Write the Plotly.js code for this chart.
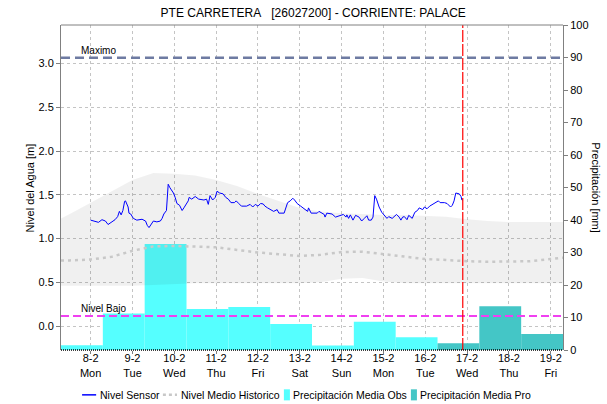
<!DOCTYPE html>
<html>
<head>
<meta charset="utf-8">
<script src="https://cdn.plot.ly/plotly-3.0.1.min.js"></script>
<style>
  html, body { margin: 0; padding: 0; background: #ffffff; }
  #chart { width: 607px; height: 404px; }
</style>
</head>
<body>
<div id="chart"></div>
<script>
// Station and window
const stationTitle = 'PTE CARRETERA\u00A0\u00A0\u00A0[26027200] - CORRIENTE: PALACE';
const windowStart = '2021-02-07 07:00';
const windowEnd = '2021-02-19 07:00';
const nowTime = '2021-02-16 21:30';

// Reference levels [m]
const levelMaximo = 3.066;
const levelBajo = 0.114;

// Day ticks
const tickDays = ['2021-02-08', '2021-02-09', '2021-02-10', '2021-02-11', '2021-02-12', '2021-02-13',
                  '2021-02-14', '2021-02-15', '2021-02-16', '2021-02-17', '2021-02-18', '2021-02-19'];
const tickDates = ['8-2', '9-2', '10-2', '11-2', '12-2', '13-2', '14-2', '15-2', '16-2', '17-2', '18-2', '19-2'];
const tickWeekdays = ['Mon', 'Tue', 'Wed', 'Thu', 'Fri', 'Sat', 'Sun', 'Mon', 'Tue', 'Wed', 'Thu', 'Fri'];

// Observed daily precipitation (day starts 07:00) [mm]
const obsDays = ['2021-02-07 07:00', '2021-02-08 07:00', '2021-02-09 07:00', '2021-02-10 07:00', '2021-02-11 07:00',
                 '2021-02-12 07:00', '2021-02-13 07:00', '2021-02-14 07:00', '2021-02-15 07:00'];
const obsPrecip = [1.5, 11.2, 32.6, 12.6, 13.2, 8.0, 1.4, 8.7, 3.9];

// Forecast daily precipitation [mm]
const proDays = ['2021-02-16 07:00', '2021-02-17 07:00', '2021-02-18 07:00'];
const proPrecip = [2.1, 13.5, 4.9];

// Historical statistics for the period [m]
const histTime = ['2021-02-07 07:00', '2021-02-07 12:00', '2021-02-08 00:00', '2021-02-08 12:00', '2021-02-09 00:00',
                  '2021-02-09 12:00', '2021-02-10 00:00', '2021-02-10 12:00', '2021-02-11 00:00', '2021-02-11 12:00',
                  '2021-02-12 00:00', '2021-02-12 12:00', '2021-02-13 00:00', '2021-02-13 12:00', '2021-02-14 00:00',
                  '2021-02-14 12:00', '2021-02-15 00:00', '2021-02-15 12:00', '2021-02-16 00:00', '2021-02-16 12:00',
                  '2021-02-17 00:00', '2021-02-17 12:00', '2021-02-18 00:00', '2021-02-18 12:00', '2021-02-19 00:00',
                  '2021-02-19 07:00'];
const histMax = [1.23, 1.28, 1.41, 1.54, 1.67, 1.75, 1.74, 1.72, 1.67, 1.60, 1.51, 1.43, 1.35,
                 1.31, 1.29, 1.28, 1.27, 1.27, 1.26, 1.25, 1.22, 1.20, 1.19, 1.19, 1.19, 1.19];
const histMin = [0.46, 0.46, 0.46, 0.46, 0.46, 0.47, 0.48, 0.49, 0.49, 0.49, 0.49, 0.49, 0.49,
                 0.50, 0.54, 0.55, 0.51, 0.49, 0.49, 0.49, 0.49, 0.49, 0.49, 0.49, 0.49, 0.49];
const histMean = [0.75, 0.75, 0.76, 0.79, 0.86, 0.91, 0.915, 0.91, 0.90, 0.87, 0.84, 0.82, 0.80,
                  0.815, 0.845, 0.85, 0.82, 0.79, 0.765, 0.755, 0.74, 0.735, 0.735, 0.74, 0.765, 0.78];

// Sensor readings [m]
const sensorTime = [
  '2021-02-08 00:00', '2021-02-08 02:30', '2021-02-08 04:30', '2021-02-08 06:30', '2021-02-08 08:30', '2021-02-08 10:00',
  '2021-02-08 12:00', '2021-02-08 14:00', '2021-02-08 15:30', '2021-02-08 16:30', '2021-02-08 17:30', '2021-02-08 18:30',
  '2021-02-08 19:30', '2021-02-08 20:00', '2021-02-08 21:30', '2021-02-08 22:00', '2021-02-08 23:00', '2021-02-09 00:30',
  '2021-02-09 02:30', '2021-02-09 05:30', '2021-02-09 07:30', '2021-02-09 08:30', '2021-02-09 09:30', '2021-02-09 10:30',
  '2021-02-09 12:00', '2021-02-09 14:00', '2021-02-09 16:00', '2021-02-09 17:00', '2021-02-09 18:00', '2021-02-09 19:30',
  '2021-02-09 20:00', '2021-02-09 20:30', '2021-02-09 21:30', '2021-02-09 22:30', '2021-02-09 23:30', '2021-02-10 00:30',
  '2021-02-10 01:30', '2021-02-10 03:00', '2021-02-10 04:30', '2021-02-10 05:30', '2021-02-10 07:00', '2021-02-10 08:00',
  '2021-02-10 08:30', '2021-02-10 10:00', '2021-02-10 12:00', '2021-02-10 14:00', '2021-02-10 17:00', '2021-02-10 18:30',
  '2021-02-10 19:30', '2021-02-10 20:30', '2021-02-10 22:00', '2021-02-10 23:30', '2021-02-11 00:30', '2021-02-11 02:00',
  '2021-02-11 04:00', '2021-02-11 05:30', '2021-02-11 07:00', '2021-02-11 08:30', '2021-02-11 10:30', '2021-02-11 11:30',
  '2021-02-11 13:00', '2021-02-11 14:30', '2021-02-11 17:30', '2021-02-11 19:30', '2021-02-11 21:00', '2021-02-11 22:30',
  '2021-02-12 00:00', '2021-02-12 01:30', '2021-02-12 03:00', '2021-02-12 04:00', '2021-02-12 05:30', '2021-02-12 07:00',
  '2021-02-12 09:00', '2021-02-12 11:00', '2021-02-12 12:00', '2021-02-12 15:00', '2021-02-12 16:00', '2021-02-12 17:00',
  '2021-02-12 18:30', '2021-02-12 20:00', '2021-02-12 21:00', '2021-02-12 22:30', '2021-02-13 00:30', '2021-02-13 02:30',
  '2021-02-13 04:30', '2021-02-13 05:00', '2021-02-13 06:30', '2021-02-13 10:00', '2021-02-13 11:00', '2021-02-13 14:00',
  '2021-02-13 14:30', '2021-02-13 15:30', '2021-02-13 18:30', '2021-02-13 20:30', '2021-02-13 23:00', '2021-02-14 01:00',
  '2021-02-14 02:30', '2021-02-14 03:00', '2021-02-14 04:00', '2021-02-14 05:00', '2021-02-14 06:30', '2021-02-14 08:00',
  '2021-02-14 10:00', '2021-02-14 11:30', '2021-02-14 13:00', '2021-02-14 14:30', '2021-02-14 15:30', '2021-02-14 17:00',
  '2021-02-14 18:00', '2021-02-14 19:00', '2021-02-14 20:00', '2021-02-14 21:30', '2021-02-14 23:00', '2021-02-15 00:30',
  '2021-02-15 02:00', '2021-02-15 03:00', '2021-02-15 05:00', '2021-02-15 07:30', '2021-02-15 09:00', '2021-02-15 10:00',
  '2021-02-15 11:00', '2021-02-15 12:00', '2021-02-15 13:30', '2021-02-15 14:30', '2021-02-15 16:30', '2021-02-15 18:00',
  '2021-02-15 19:30', '2021-02-15 20:30', '2021-02-15 22:30', '2021-02-15 23:30', '2021-02-16 01:00', '2021-02-16 02:30',
  '2021-02-16 04:00', '2021-02-16 06:00', '2021-02-16 07:30', '2021-02-16 08:30', '2021-02-16 11:00', '2021-02-16 12:30',
  '2021-02-16 14:30', '2021-02-16 15:30', '2021-02-16 16:30', '2021-02-16 17:30', '2021-02-16 19:30', '2021-02-16 20:30',
  '2021-02-16 21:00', '2021-02-16 21:30'
];
const sensorLevel = [
  1.21, 1.20, 1.185, 1.215, 1.20, 1.16, 1.19, 1.215, 1.25, 1.31, 1.27, 1.32,
  1.425, 1.43, 1.36, 1.29, 1.28, 1.23, 1.21, 1.22, 1.20, 1.15, 1.125, 1.15,
  1.20, 1.19, 1.20, 1.23, 1.28, 1.32, 1.43, 1.62, 1.58, 1.55, 1.52, 1.47,
  1.40, 1.38, 1.32, 1.35, 1.39, 1.43, 1.47, 1.45, 1.48, 1.45, 1.44, 1.45,
  1.39, 1.49, 1.44, 1.47, 1.54, 1.52, 1.51, 1.47, 1.45, 1.41, 1.41, 1.43,
  1.40, 1.37, 1.37, 1.39, 1.36, 1.39, 1.37, 1.40, 1.395, 1.37, 1.35, 1.33,
  1.31, 1.33, 1.29, 1.29, 1.35, 1.41, 1.43, 1.46, 1.44, 1.40, 1.37, 1.34,
  1.31, 1.35, 1.29, 1.29, 1.31, 1.275, 1.245, 1.29, 1.28, 1.245, 1.265, 1.275,
  1.245, 1.27, 1.23, 1.27, 1.21, 1.265, 1.245, 1.20, 1.23, 1.26, 1.21, 1.21,
  1.245, 1.49, 1.45, 1.36, 1.30, 1.26, 1.23, 1.25, 1.23, 1.275, 1.245, 1.21,
  1.245, 1.25, 1.215, 1.265, 1.23, 1.30, 1.32, 1.35, 1.33, 1.36, 1.34, 1.37,
  1.39, 1.41, 1.43, 1.41, 1.41, 1.40, 1.36, 1.38, 1.43, 1.52, 1.51, 1.48,
  1.44, 1.44
];

// Series names and colours
const nameSensor = 'Nivel Sensor';
const nameMean = 'Nivel Medio Historico';
const nameObs = 'Precipitación Media Obs';
const namePro = 'Precipitación Media Pro';
const colorSensor = '#0000ff';
const colorMean = '#c8c8c8';
const colorObs = '#55ffff';
const colorPro = '#44c6c6';

const DAY_MS = 24 * 3600 * 1000;
const fontFamily = 'Liberation Sans, Arial, sans-serif';
const baseFont = { family: fontFamily, size: 11, color: '#000000' };
const gridColor = '#c4c4c4';

const traces = [
  // Precipitation bars on the right-hand axis (base subplot, beneath the level traces)
  {
    type: 'bar', name: nameObs, x: obsDays, y: obsPrecip,
    width: DAY_MS, offset: 0, yaxis: 'y', xaxis: 'x',
    marker: { color: colorObs, line: { width: 0 } }, hoverinfo: 'skip'
  },
  {
    type: 'bar', name: namePro, x: proDays, y: proPrecip,
    width: DAY_MS, offset: 0, yaxis: 'y', xaxis: 'x',
    marker: { color: colorPro, line: { width: 0 } }, hoverinfo: 'skip'
  },
  // Historical min–max envelope
  {
    type: 'scatter', mode: 'lines', x: histTime, y: histMin, yaxis: 'y2',
    line: { width: 0, color: 'rgba(0,0,0,0)' }, hoverinfo: 'skip'
  },
  {
    type: 'scatter', mode: 'lines', x: histTime, y: histMax, yaxis: 'y2',
    fill: 'tonexty', fillcolor: 'rgba(0,0,0,0.06)',
    line: { width: 0, color: 'rgba(0,0,0,0)' }, hoverinfo: 'skip'
  },
  // Historical mean level
  {
    type: 'scatter', mode: 'lines', name: nameMean, x: histTime, y: histMean, yaxis: 'y2',
    line: { color: colorMean, width: 2.5, dash: '3px,4px' }, hoverinfo: 'skip'
  },
  // Sensor level
  {
    type: 'scatter', mode: 'lines', name: nameSensor, x: sensorTime, y: sensorLevel, yaxis: 'y2',
    line: { color: colorSensor, width: 1 }, hoverinfo: 'skip'
  }
];

// Legend row below the axis, in plot-fraction coordinates
const legendY = -0.138;
const legendItems = [
  { kind: 'line', color: colorSensor, dash: 'solid', width: 1.5, x0: 0.042, x1: 0.070, tx: 0.073, label: nameSensor },
  { kind: 'line', color: colorMean, dash: '3px,3px', width: 2.5, x0: 0.203, x1: 0.231, tx: 0.236, label: nameMean },
  { kind: 'box', color: colorObs, x0: 0.444, x1: 0.456, tx: 0.458, label: nameObs },
  { kind: 'box', color: colorPro, x0: 0.697, x1: 0.709, tx: 0.712, label: namePro }
];
const legendShapes = legendItems.map(it => it.kind === 'line'
  ? { type: 'line', xref: 'paper', yref: 'paper', x0: it.x0, x1: it.x1, y0: legendY, y1: legendY,
      line: { color: it.color, width: it.width, dash: it.dash } }
  : { type: 'rect', xref: 'paper', yref: 'paper', x0: it.x0, x1: it.x1, y0: legendY - 0.017, y1: legendY + 0.017,
      fillcolor: it.color, line: { width: 0 } });
const legendLabels = legendItems.map(it => ({
  text: it.label, xref: 'paper', yref: 'paper', x: it.tx, y: legendY, xanchor: 'left', yanchor: 'middle',
  showarrow: false, font: { family: fontFamily, size: 10.5, color: '#000000' }
}));

const layout = {
  width: 607, height: 404,
  margin: { l: 61, r: 44, t: 25, b: 54, pad: 0, autoexpand: false },
  paper_bgcolor: '#ffffff', plot_bgcolor: '#ffffff',
  font: baseFont,
  showlegend: false,
  barmode: 'overlay',
  title: {
    text: stationTitle, font: { family: fontFamily, size: 12, color: '#000000' },
    x: 0.516, xanchor: 'center', xref: 'container', y: 0.968, yanchor: 'middle', yref: 'container'
  },
  xaxis: {
    type: 'date', range: [windowStart, windowEnd],
    tickmode: 'array', tickvals: tickDays,
    ticktext: tickDates.map((d, i) => d + '<br>' + tickWeekdays[i]),
    tickfont: baseFont, ticks: 'outside', ticklen: 3, tickcolor: '#808080',
    ticklabelstandoff: -5,
    showgrid: true, gridcolor: gridColor, griddash: '3px,3px', gridwidth: 1,
    showline: false, zeroline: false, fixedrange: true
  },
  yaxis: {
    side: 'right', range: [0, 100], tickmode: 'linear', tick0: 0, dtick: 10,
    tickfont: baseFont, ticks: 'outside', ticklen: 4, tickcolor: '#808080',
    showgrid: false, zeroline: false, showline: true, linecolor: '#808080', linewidth: 1,
    fixedrange: true
  },
  yaxis2: {
    overlaying: 'y', side: 'left', range: [-0.274, 3.44],
    tickmode: 'linear', tick0: 0, dtick: 0.5, tickformat: '.1f',
    tickfont: baseFont, ticks: 'outside', ticklen: 4, tickcolor: '#808080',
    showgrid: true, gridcolor: gridColor, griddash: '3px,3px', gridwidth: 1,
    zeroline: false, showline: true, linecolor: '#808080', linewidth: 1,
    fixedrange: true
  },
  shapes: [
    // Maximum level
    { type: 'line', xref: 'paper', x0: 0, x1: 1, yref: 'y2', y0: levelMaximo, y1: levelMaximo,
      line: { color: '#6e7ba2', width: 2.5, dash: '9px,5px' }, layer: 'above' },
    // Low level
    { type: 'line', xref: 'paper', x0: 0, x1: 1, yref: 'y2', y0: levelBajo, y1: levelBajo,
      line: { color: '#f040f0', width: 2, dash: '8px,4px' }, layer: 'above' },
    // Current time
    { type: 'line', xref: 'x', x0: nowTime, x1: nowTime, yref: 'paper', y0: 0, y1: 1,
      line: { color: '#ff0000', width: 1.2, dash: '12px,2px' }, layer: 'above' },
    // Frame top and bottom
    { type: 'line', xref: 'paper', x0: 0, x1: 1, yref: 'paper', y0: 1, y1: 1,
      line: { color: '#808080', width: 1 }, layer: 'above' },
    { type: 'line', xref: 'paper', x0: 0, x1: 1, yref: 'paper', y0: 0, y1: 0,
      line: { color: '#000000', width: 1.5, dash: '1px,1px' }, layer: 'above' }
  ].concat(legendShapes),
  annotations: [
    { text: 'Maximo', xref: 'paper', x: 0.036, xanchor: 'left', yref: 'y2', y: levelMaximo,
      yanchor: 'bottom', showarrow: false, font: { family: fontFamily, size: 10, color: '#000000' } },
    { text: 'Nivel Bajo', xref: 'paper', x: 0.036, xanchor: 'left', yref: 'y2', y: levelBajo,
      yanchor: 'bottom', showarrow: false, font: { family: fontFamily, size: 10, color: '#000000' } },
    { text: 'Nivel del Agua [m]', xref: 'paper', x: -0.062, xanchor: 'center', yref: 'paper', y: 0.5,
      yanchor: 'middle', textangle: -90, showarrow: false, font: baseFont },
    { text: 'Precipitación [mm]', xref: 'paper', x: 1.066, xanchor: 'center', yref: 'paper', y: 0.5,
      yanchor: 'middle', textangle: 90, showarrow: false, font: baseFont }
  ].concat(legendLabels)
};

Plotly.newPlot('chart', traces, layout, { displayModeBar: false, staticPlot: true });
</script>
</body>
</html>
